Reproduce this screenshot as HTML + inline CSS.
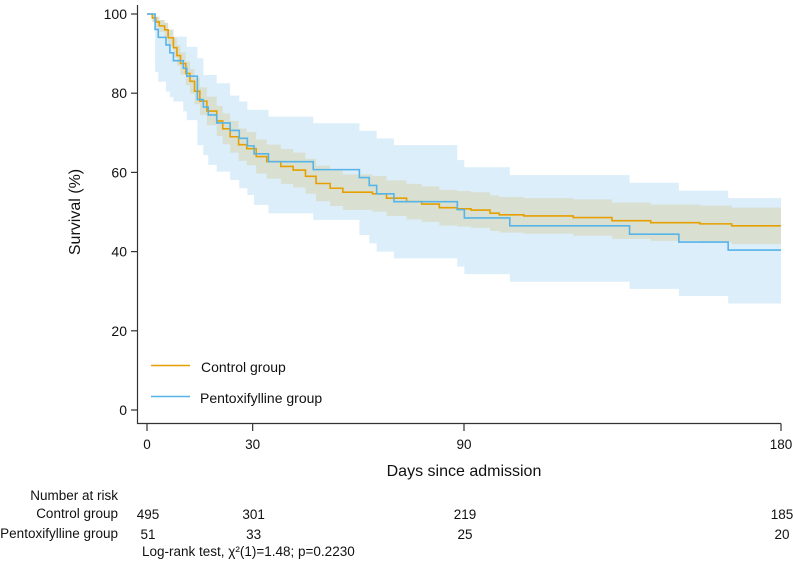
<!DOCTYPE html>
<html><head><meta charset="utf-8"><style>
body{margin:0;background:#fff;}
svg{display:block;font-family:"Liberation Sans",Arial,sans-serif;}
</style></head><body>
<svg id="chart" width="793" height="567" viewBox="0 0 793 567">
<g id="bands"></g>
<g id="lines"></g>
<g id="axes"></g>
<g>
  <line x1="151" y1="365.5" x2="190" y2="365.5" stroke="#E69F00" stroke-width="1.6"/>
  <text x="201" y="372" font-size="14" fill="#111">Control group</text>
  <line x1="151" y1="396.5" x2="190" y2="396.5" stroke="#56B4E9" stroke-width="1.6"/>
  <text x="200" y="403" font-size="14" fill="#111">Pentoxifylline group</text>
</g>
<text x="0" y="0" transform="translate(80,212) rotate(-90)" text-anchor="middle" font-size="16" fill="#111">Survival (%)</text>
<text x="464" y="476" text-anchor="middle" font-size="16" fill="#111">Days since admission</text>
<g id="risk">
  <text x="118" y="500" text-anchor="end" font-size="13.5" fill="#111">Number at risk</text>
  <text x="118" y="518" text-anchor="end" font-size="13.5" fill="#111">Control group</text>
  <text x="118" y="538" text-anchor="end" font-size="13.5" fill="#111">Pentoxifylline group</text>
</g>
<text x="142" y="556" font-size="13.5" fill="#111">Log-rank test, χ²(1)=1.48; p=0.2230</text>
</svg>
<script>
const ctrlT=[0,1.5,2.5,3.5,5,6,7.5,8.5,9.5,11,12.2,13.5,15,17,19.8,21.5,23.6,26,28.3,31,34,38,41.5,45,48,52,55.6,64,68,73.7,78,83,88,92,97.4,100,107,121,132,143,157,166];
const ctrlS=[100,99,98,97,96,94,91.5,89.5,87.5,85,83,80.5,78,75.5,73,71,69,67,66,64,62.7,61.5,60.6,59,57.2,56,55,54.6,53.5,52.6,52,51.1,50.8,50.5,49.7,49.3,49,48.6,47.8,47.3,47,46.5];
const ctrlHi=[100,100,99.3,98.5,97.8,96.1,93.9,92.1,90.3,88,86.1,83.8,81.5,79.1,76.8,74.9,73,71.1,70.2,68.3,67,65.9,65,63.4,61.7,60.5,59.5,59.1,58,57.1,56.5,55.6,55.3,55,54.2,53.8,53.5,53.2,52.4,51.9,51.6,51.1];
const ctrlLo=[100,98,96.7,95.5,94.2,91.9,89.1,86.9,84.7,82,79.9,77.2,74.5,71.9,69.2,67.1,65,62.9,61.8,59.7,58.4,57.1,56.2,54.6,52.7,51.5,50.5,50.1,49,48.1,47.5,46.6,46.3,46,45.2,44.8,44.5,44,43.2,42.7,42.4,41.9];
const pentT=[0,2.3,3.2,5.4,6.5,7.5,10.3,11.3,14.3,16,17.4,19.8,23.6,26.2,28.5,30.4,34.5,47.2,60.3,63.1,65.2,70.1,88.1,90.1,103,137,151,165];
const pentS=[100,96.1,94.1,92.2,90.2,88.2,86.3,84.3,78.4,76.5,74.5,72.5,70.6,68.6,66.7,64.7,62.7,60.7,58.7,56.7,54.6,52.6,50.6,48.5,46.5,44.4,42.4,40.4];
const pentHi=[100,98,97,95,94.3,94.3,94.3,91.7,88.8,84.6,84.6,82.5,79.4,77.9,75.8,75.8,74.1,72.4,70.5,70.5,68.6,66.9,63.1,61.3,59.3,57.4,55.4,53.5];
const pentLo=[100,85.4,82.9,80.4,79,77.9,75.4,73.2,66.9,64.4,61.9,60.2,58.1,56,54.3,51.8,49.7,48,44.2,42.1,40,38.3,36.2,34.3,32.4,30.6,28.8,26.9];
const xTicks=[0,30,90,180];
const yTicks=[0,20,40,60,80,100];
const riskCtrl=[495,301,219,185];
const riskPent=[51,33,25,20];
const XMAX=180;
const NS="http://www.w3.org/2000/svg";
const X=d=>147+d*(781-147)/180;
const Y=v=>410-v*3.96;
function stepPath(t,s){let p="M"+X(t[0])+","+Y(s[0]);for(let i=1;i<t.length;i++){p+=" H"+X(t[i])+" V"+Y(s[i]);}return p+" H"+X(XMAX);}
function bandPath(t,lo,hi){let top="M"+X(t[0])+","+Y(hi[0]);for(let i=1;i<t.length;i++)top+=" H"+X(t[i])+" V"+Y(hi[i]);top+=" H"+X(XMAX)+" V"+Y(lo[lo.length-1]);for(let i=t.length-1;i>=1;i--)top+=" H"+X(t[i])+" V"+Y(lo[i-1]);return top+" H"+X(t[0])+" Z";}
function mk(tag,attrs,parent){const e=document.createElementNS(NS,tag);for(const k in attrs)e.setAttribute(k,attrs[k]);parent.appendChild(e);return e;}
const bands=document.getElementById('bands'),lines=document.getElementById('lines'),axes=document.getElementById('axes');
let e=mk('path',{d:bandPath(pentT,pentLo,pentHi),fill:"#dceefa",stroke:"none"},bands);


e=mk('path',{d:bandPath(ctrlT,ctrlLo,ctrlHi),fill:"#d9e0d2",stroke:"none"},bands);


e=mk('path',{d:stepPath(ctrlT,ctrlS),fill:"none",stroke:"#E69F00","stroke-width":1.6},lines);


e=mk('path',{d:stepPath(pentT,pentS),fill:"none",stroke:"#56B4E9","stroke-width":1.6},lines);


e=mk('path',{d:"M137.5,5 V423.5 H781",fill:"none",stroke:"#333","stroke-width":1.2},axes);


yTicks.forEach(v=>{
  let t=mk('line',{x1:131,x2:137.5,y1:Y(v),y2:Y(v),stroke:"#333","stroke-width":1.2},axes);
  
  
  let l=mk('text',{x:127,y:Y(v)+5,"text-anchor":"end","font-size":14,fill:"#111"},axes);
  l.textContent=v;
  
  
});
xTicks.forEach((d,i)=>{
  let t=mk('line',{x1:X(d),x2:X(d),y1:423.5,y2:431,stroke:"#333","stroke-width":1.2},axes);
  
  
  let l=mk('text',{x:X(d),y:449,"text-anchor":"middle","font-size":13.5,fill:"#111"},axes);
  l.textContent=d;
  
  
  let a=mk('text',{x:X(d)+1,y:519,"text-anchor":"middle","font-size":13.5,fill:"#111"},axes);
  a.textContent=riskCtrl[i];
  
  
  let b=mk('text',{x:X(d)+1,y:539,"text-anchor":"middle","font-size":13.5,fill:"#111"},axes);
  b.textContent=riskPent[i];
  
  
});
</script>
</body></html>
